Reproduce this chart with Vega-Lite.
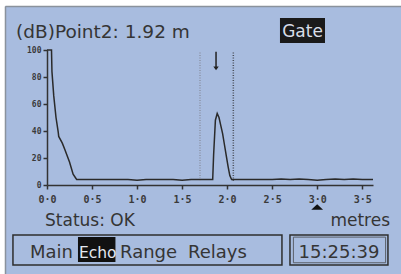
{
  "$schema": "https://vega.github.io/schema/vega-lite/v6.json",
  "width": 326,
  "height": 135,
  "autosize": "none",
  "padding": {"left": 47, "top": 50, "right": 28, "bottom": 89},
  "background": "#a8bcdf",
  "config": {
    "view": {"stroke": null},
    "text": {"font": "DejaVu Sans", "color": "#353535"},
    "axis": {"grid": false, "title": null, "labelOverlap": false, "labelBound": false, "labelFlush": false,
      "domainColor": "#333333", "domainWidth": 1.5, "tickColor": "#333333", "tickWidth": 1.5, "tickSize": 4,
      "labelFont": "DejaVu Sans Mono", "labelFontWeight": "bold", "labelColor": "#3a3a3a"},
    "axisX": {"labelExpr": "replace(format(datum.value, '.1f'), '.', '·')", "labelFontSize": 10, "labelPadding": 5},
    "axisY": {"labelFontSize": 8, "labelPadding": 2}
  },
  "layer": [
    {
      "data": {"values": [
        {"m": 0.0, "db": 100}, {"m": 0.05, "db": 100}, {"m": 0.055, "db": 84}, {"m": 0.075, "db": 66},
        {"m": 0.1, "db": 50}, {"m": 0.125, "db": 39}, {"m": 0.13, "db": 36}, {"m": 0.17, "db": 31},
        {"m": 0.2, "db": 26}, {"m": 0.25, "db": 17}, {"m": 0.29, "db": 8}, {"m": 0.32, "db": 5},
        {"m": 0.33, "db": 4}, {"m": 0.4, "db": 4}, {"m": 0.5, "db": 4}, {"m": 0.6, "db": 4},
        {"m": 0.7, "db": 4}, {"m": 0.8, "db": 4}, {"m": 0.9, "db": 4}, {"m": 1.0, "db": 3.5},
        {"m": 1.1, "db": 4}, {"m": 1.2, "db": 4}, {"m": 1.3, "db": 4}, {"m": 1.4, "db": 4},
        {"m": 1.5, "db": 3.5}, {"m": 1.6, "db": 4}, {"m": 1.7, "db": 4}, {"m": 1.8, "db": 4},
        {"m": 1.84, "db": 4}, {"m": 1.85, "db": 22}, {"m": 1.87, "db": 48}, {"m": 1.89, "db": 53},
        {"m": 1.91, "db": 50}, {"m": 1.93, "db": 44}, {"m": 1.95, "db": 38}, {"m": 1.97, "db": 30},
        {"m": 1.99, "db": 22}, {"m": 2.01, "db": 14}, {"m": 2.03, "db": 7}, {"m": 2.05, "db": 4},
        {"m": 2.1, "db": 4}, {"m": 2.2, "db": 4}, {"m": 2.3, "db": 4}, {"m": 2.4, "db": 4},
        {"m": 2.5, "db": 4}, {"m": 2.6, "db": 4.5}, {"m": 2.7, "db": 4}, {"m": 2.8, "db": 4.5},
        {"m": 2.9, "db": 4}, {"m": 3.0, "db": 3.5}, {"m": 3.1, "db": 4}, {"m": 3.2, "db": 4.5},
        {"m": 3.3, "db": 4}, {"m": 3.4, "db": 4.5}, {"m": 3.5, "db": 4}, {"m": 3.62, "db": 4}
      ]},
      "mark": {"type": "line", "color": "#2a2a2a", "strokeWidth": 1.5},
      "encoding": {
        "x": {"field": "m", "type": "quantitative", "scale": {"domain": [0, 3.62], "nice": false, "zero": false},
          "axis": {"values": [0, 0.5, 1, 1.5, 2, 2.5, 3, 3.5]}},
        "y": {"field": "db", "type": "quantitative", "scale": {"domain": [0, 100], "nice": false, "zero": false},
          "axis": {"values": [0, 20, 40, 60, 80, 100]}}
      }
    },
    {
      "data": {"values": [{}]},
      "mark": {"type": "rect", "color": "#ffffff"},
      "encoding": {
        "x": {"datum": -1, "type": "quantitative", "axis": {"values": [0, 0.5, 1, 1.5, 2, 2.5, 3, 3.5]}},
        "x2": {"datum": 4.3},
        "y": {"datum": 140, "type": "quantitative", "axis": {"values": [0, 20, 40, 60, 80, 100]}},
        "y2": {"datum": 132.6}
      }
    },
    {
      "data": {"values": [{}]},
      "mark": {"type": "rect", "color": "#ffffff"},
      "encoding": {
        "x": {"datum": -1, "type": "quantitative", "axis": {"values": [0, 0.5, 1, 1.5, 2, 2.5, 3, 3.5]}},
        "x2": {"datum": -0.466},
        "y": {"datum": 140, "type": "quantitative", "axis": {"values": [0, 20, 40, 60, 80, 100]}},
        "y2": {"datum": -80}
      }
    },
    {
      "data": {"values": [{}]},
      "mark": {"type": "rule", "color": "#8a929c", "strokeWidth": 1.5},
      "encoding": {
        "x": {"datum": -0.461, "type": "quantitative", "axis": {"values": [0, 0.5, 1, 1.5, 2, 2.5, 3, 3.5]}},
        "x2": {"datum": 4.3},
        "y": {"datum": 132.2, "type": "quantitative", "axis": {"values": [0, 20, 40, 60, 80, 100]}}
      }
    },
    {
      "data": {"values": [{}]},
      "mark": {"type": "rule", "color": "#8a929c", "strokeWidth": 1.5},
      "encoding": {
        "x": {"datum": -0.461, "type": "quantitative", "axis": {"values": [0, 0.5, 1, 1.5, 2, 2.5, 3, 3.5]}},
        "y": {"datum": 132.2, "type": "quantitative", "axis": {"values": [0, 20, 40, 60, 80, 100]}},
        "y2": {"datum": -80}
      }
    },
    {
      "data": {"values": [{}]},
      "mark": {"type": "rule", "color": "#8a93a6", "strokeWidth": 1.5, "strokeDash": [1, 1.5]},
      "encoding": {
        "x": {"datum": 1.699, "type": "quantitative", "axis": {"values": [0, 0.5, 1, 1.5, 2, 2.5, 3, 3.5]}},
        "y": {"datum": 3, "type": "quantitative", "axis": {"values": [0, 20, 40, 60, 80, 100]}},
        "y2": {"datum": 98.5}
      }
    },
    {
      "data": {"values": [{}]},
      "mark": {"type": "rule", "color": "#4a4f5a", "strokeWidth": 1.5, "strokeDash": [1, 1.5]},
      "encoding": {
        "x": {"datum": 2.069, "type": "quantitative", "axis": {"values": [0, 0.5, 1, 1.5, 2, 2.5, 3, 3.5]}},
        "y": {"datum": 3, "type": "quantitative", "axis": {"values": [0, 20, 40, 60, 80, 100]}},
        "y2": {"datum": 98.5}
      }
    },
    {
      "data": {"values": [{}]},
      "mark": {"type": "rule", "color": "#222222", "strokeWidth": 1.5},
      "encoding": {
        "x": {"datum": 1.877, "type": "quantitative", "axis": {"values": [0, 0.5, 1, 1.5, 2, 2.5, 3, 3.5]}},
        "y": {"datum": 98.7, "type": "quantitative", "axis": {"values": [0, 20, 40, 60, 80, 100]}},
        "y2": {"datum": 86}
      }
    },
    {
      "data": {"values": [{}]},
      "mark": {"type": "point", "shape": "M-1,-0.6L1,-0.6L0,0.7Z", "filled": true, "color": "#222222", "size": 30, "opacity": 1},
      "encoding": {
        "x": {"datum": 1.877, "type": "quantitative", "axis": {"values": [0, 0.5, 1, 1.5, 2, 2.5, 3, 3.5]}},
        "y": {"datum": 86.5, "type": "quantitative", "axis": {"values": [0, 20, 40, 60, 80, 100]}}
      }
    },
    {
      "data": {"values": [{}]},
      "mark": {"type": "point", "shape": "M-1,0.45L1,0.45L0,-0.45Z", "filled": true, "color": "#111111", "size": 140, "opacity": 1},
      "encoding": {
        "x": {"datum": 3.0, "type": "quantitative", "axis": {"values": [0, 0.5, 1, 1.5, 2, 2.5, 3, 3.5]}},
        "y": {"datum": -16.3, "type": "quantitative", "axis": {"values": [0, 20, 40, 60, 80, 100]}}
      }
    },
    {
      "data": {"values": [{}]},
      "mark": {"type": "rect", "color": "#1a1a1a"},
      "encoding": {
        "x": {"datum": 2.587, "type": "quantitative", "axis": {"values": [0, 0.5, 1, 1.5, 2, 2.5, 3, 3.5]}},
        "x2": {"datum": 3.087},
        "y": {"datum": 123.7, "type": "quantitative", "axis": {"values": [0, 20, 40, 60, 80, 100]}},
        "y2": {"datum": 105.2}
      }
    },
    {
      "data": {"values": [{}]},
      "mark": {"type": "text", "text": "Gate", "fontSize": 17, "color": "#d8dee8", "align": "center", "baseline": "alphabetic"},
      "encoding": {
        "x": {"datum": 2.837, "type": "quantitative", "axis": {"values": [0, 0.5, 1, 1.5, 2, 2.5, 3, 3.5]}},
        "y": {"datum": 109.6, "type": "quantitative", "axis": {"values": [0, 20, 40, 60, 80, 100]}}
      }
    },
    {
      "data": {"values": [{}]},
      "mark": {"type": "text", "text": "(dB)Point2: 1.92 m", "fontSize": 18.5, "align": "left", "baseline": "alphabetic"},
      "encoding": {
        "x": {"datum": -0.344, "type": "quantitative", "axis": {"values": [0, 0.5, 1, 1.5, 2, 2.5, 3, 3.5]}},
        "y": {"datum": 108.9, "type": "quantitative", "axis": {"values": [0, 20, 40, 60, 80, 100]}}
      }
    },
    {
      "data": {"values": [{}]},
      "mark": {"type": "text", "text": "Status: OK", "fontSize": 17, "align": "left", "baseline": "alphabetic"},
      "encoding": {
        "x": {"datum": -0.022, "type": "quantitative", "axis": {"values": [0, 0.5, 1, 1.5, 2, 2.5, 3, 3.5]}},
        "y": {"datum": -30.4, "type": "quantitative", "axis": {"values": [0, 20, 40, 60, 80, 100]}}
      }
    },
    {
      "data": {"values": [{}]},
      "mark": {"type": "text", "text": "metres", "fontSize": 17, "align": "right", "baseline": "alphabetic"},
      "encoding": {
        "x": {"datum": 3.809, "type": "quantitative", "axis": {"values": [0, 0.5, 1, 1.5, 2, 2.5, 3, 3.5]}},
        "y": {"datum": -30.4, "type": "quantitative", "axis": {"values": [0, 20, 40, 60, 80, 100]}}
      }
    },
    {
      "data": {"values": [{}]},
      "mark": {"type": "rect", "fill": null, "fillOpacity": 0, "stroke": "#2e2e2e", "strokeWidth": 1.5},
      "encoding": {
        "x": {"datum": -0.378, "type": "quantitative", "axis": {"values": [0, 0.5, 1, 1.5, 2, 2.5, 3, 3.5]}},
        "x2": {"datum": 2.609},
        "y": {"datum": -37, "type": "quantitative", "axis": {"values": [0, 20, 40, 60, 80, 100]}},
        "y2": {"datum": -59.3}
      }
    },
    {
      "data": {"values": [{}]},
      "mark": {"type": "rect", "color": "#111111"},
      "encoding": {
        "x": {"datum": 0.344, "type": "quantitative", "axis": {"values": [0, 0.5, 1, 1.5, 2, 2.5, 3, 3.5]}},
        "x2": {"datum": 0.76},
        "y": {"datum": -38.5, "type": "quantitative", "axis": {"values": [0, 20, 40, 60, 80, 100]}},
        "y2": {"datum": -57}
      }
    },
    {
      "data": {"values": [{}]},
      "mark": {"type": "text", "text": "Main", "fontSize": 18, "align": "left", "baseline": "alphabetic"},
      "encoding": {
        "x": {"datum": -0.189, "type": "quantitative", "axis": {"values": [0, 0.5, 1, 1.5, 2, 2.5, 3, 3.5]}},
        "y": {"datum": -54.1, "type": "quantitative", "axis": {"values": [0, 20, 40, 60, 80, 100]}}
      }
    },
    {
      "data": {"values": [{}]},
      "mark": {"type": "text", "text": "Echo", "fontSize": 15.5, "align": "left", "baseline": "alphabetic", "color": "#e4e8f0"},
      "encoding": {
        "x": {"datum": 0.355, "type": "quantitative", "axis": {"values": [0, 0.5, 1, 1.5, 2, 2.5, 3, 3.5]}},
        "y": {"datum": -54.1, "type": "quantitative", "axis": {"values": [0, 20, 40, 60, 80, 100]}}
      }
    },
    {
      "data": {"values": [{}]},
      "mark": {"type": "text", "text": "Range", "fontSize": 18, "align": "left", "baseline": "alphabetic"},
      "encoding": {
        "x": {"datum": 0.811, "type": "quantitative", "axis": {"values": [0, 0.5, 1, 1.5, 2, 2.5, 3, 3.5]}},
        "y": {"datum": -54.1, "type": "quantitative", "axis": {"values": [0, 20, 40, 60, 80, 100]}}
      }
    },
    {
      "data": {"values": [{}]},
      "mark": {"type": "text", "text": "Relays", "fontSize": 18, "align": "left", "baseline": "alphabetic"},
      "encoding": {
        "x": {"datum": 1.566, "type": "quantitative", "axis": {"values": [0, 0.5, 1, 1.5, 2, 2.5, 3, 3.5]}},
        "y": {"datum": -54.1, "type": "quantitative", "axis": {"values": [0, 20, 40, 60, 80, 100]}}
      }
    },
    {
      "data": {"values": [{}]},
      "mark": {"type": "rect", "fill": null, "fillOpacity": 0, "stroke": "#2e2e2e", "strokeWidth": 1.5},
      "encoding": {
        "x": {"datum": 2.698, "type": "quantitative", "axis": {"values": [0, 0.5, 1, 1.5, 2, 2.5, 3, 3.5]}},
        "x2": {"datum": 3.786},
        "y": {"datum": -37, "type": "quantitative", "axis": {"values": [0, 20, 40, 60, 80, 100]}},
        "y2": {"datum": -59.3}
      }
    },
    {
      "data": {"values": [{}]},
      "mark": {"type": "rect", "fill": null, "fillOpacity": 0, "stroke": "#5a5f68", "strokeWidth": 1},
      "encoding": {
        "x": {"datum": 2.736, "type": "quantitative", "axis": {"values": [0, 0.5, 1, 1.5, 2, 2.5, 3, 3.5]}},
        "x2": {"datum": 3.76},
        "y": {"datum": -38.6, "type": "quantitative", "axis": {"values": [0, 20, 40, 60, 80, 100]}},
        "y2": {"datum": -57.6}
      }
    },
    {
      "data": {"values": [{}]},
      "mark": {"type": "text", "text": "15:25:39", "fontSize": 18, "align": "center", "baseline": "alphabetic"},
      "encoding": {
        "x": {"datum": 3.242, "type": "quantitative", "axis": {"values": [0, 0.5, 1, 1.5, 2, 2.5, 3, 3.5]}},
        "y": {"datum": -54.1, "type": "quantitative", "axis": {"values": [0, 20, 40, 60, 80, 100]}}
      }
    }
  ]
}
